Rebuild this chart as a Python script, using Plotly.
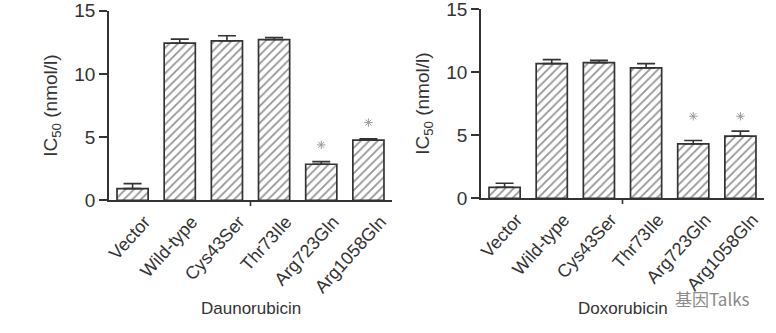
import plotly.graph_objects as go

categories = ["Vector", "Wild-type", "Cys43Ser", "Thr73Ile", "Arg723Gln", "Arg1058Gln"]

dauno_values = [0.93, 12.43, 12.62, 12.72, 2.86, 4.76]
dauno_errors = [0.40, 0.32, 0.40, 0.16, 0.21, 0.11]
dauno_star_cats = ["Arg723Gln", "Arg1058Gln"]
dauno_star_y = [4.39, 6.15]

doxo_values = [0.87, 10.67, 10.75, 10.33, 4.32, 4.92]
doxo_errors = [0.32, 0.32, 0.18, 0.34, 0.26, 0.40]
doxo_star_cats = ["Arg723Gln", "Arg1058Gln"]
doxo_star_y = [6.5, 6.5]

y_ticks = [0, 5, 10, 15]
y_title = "IC<sub>50</sub> (nmol/l)"
x_titles = ["Daunorubicin", "Doxorubicin"]
watermark = "基因Talks"

FONT = "Liberation Sans, Arial, Helvetica, sans-serif"
DARK = "#333333"

fig = go.Figure()

def add_panel(values, errors, star_cats, star_y, xa, ya):
    fig.add_trace(go.Bar(
        x=categories, y=values, xaxis=xa, yaxis=ya, width=0.66,
        marker=dict(color="white", line=dict(color=DARK, width=1.7),
                    pattern=dict(shape="/", fgcolor="#2a2a2a", bgcolor="white",
                                 size=6, solidity=0.3)),
        error_y=dict(type="data", array=errors, arrayminus=[0] * len(errors),
                     symmetric=False, color=DARK, thickness=1.6, width=9),
        showlegend=False,
    ))
    fig.add_trace(go.Scatter(
        x=star_cats, y=star_y, xaxis=xa, yaxis=ya, mode="markers",
        marker=dict(symbol="asterisk-open", size=7, color="#9a9a9a",
                    line=dict(color="#9a9a9a", width=1.0)),
        showlegend=False, cliponaxis=False,
    ))

add_panel(dauno_values, dauno_errors, dauno_star_cats, dauno_star_y, "x", "y")
add_panel(doxo_values, doxo_errors, doxo_star_cats, doxo_star_y, "x2", "y2")

xcommon = dict(type="category", range=[-0.5, 5.5], showline=True, linecolor=DARK,
               linewidth=1.6, ticks="", showgrid=False, zeroline=False, automargin=False,
               tickangle=-48, ticklabelshift=12, ticklabelstandoff=2,
               tickfont=dict(family=FONT, size=18, color="#333"), fixedrange=True)
ycommon = dict(range=[0, 15], tickvals=y_ticks, showline=True, linecolor=DARK,
               linewidth=1.6, ticks="outside", ticklen=8, tickwidth=1.6, tickcolor=DARK,
               showgrid=False, zeroline=False, ticklabeloverflow="allow", automargin=False,
               tickfont=dict(family=FONT, size=19, color="#333"),
               title=dict(text=y_title, font=dict(family=FONT, size=19, color="#333"),
                          standoff=12))

fig.update_layout(
    width=776, height=333, paper_bgcolor="white", plot_bgcolor="white",
    margin=dict(l=0, r=0, t=8, b=132, autoexpand=False), bargap=0.34,
    xaxis=dict(domain=[109 / 776, 392 / 776], anchor="y", **xcommon),
    xaxis2=dict(domain=[481 / 776, 764 / 776], anchor="y2", **xcommon),
    yaxis=dict(domain=[0.003, 0.986], anchor="x", **ycommon),
    yaxis2=dict(domain=[0.014, 0.995], anchor="x2", **ycommon),
)

# small centre tick marks on each x axis
for xr, yr in [("x", "y domain"), ("x2", "y2 domain")]:
    fig.add_shape(type="line", xref=xr, yref=yr, x0=2.5, x1=2.5, y0=0, y1=-0.03,
                  line=dict(color=DARK, width=1.6))

for xr, t in zip(["x domain", "x2 domain"], x_titles):
    fig.add_annotation(text=t, xref=xr, yref="paper", x=0.5, y=-0.555,
                       showarrow=False, yanchor="middle",
                       font=dict(family=FONT, size=17, color="#333"))

fig.add_annotation(text=watermark, xref="paper", yref="paper", x=712 / 776, y=(201 - 298) / 193,
                   showarrow=False, xanchor="center", yanchor="middle",
                   font=dict(family="Noto Sans CJK SC, sans-serif", size=17, color="#8a8a8a"))

fig.write_html("out.html")
